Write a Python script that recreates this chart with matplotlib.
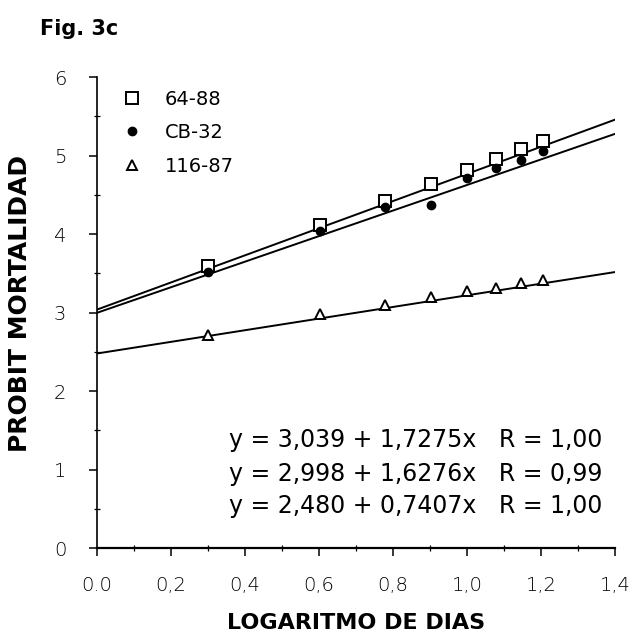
import matplotlib
matplotlib.use("Agg")
import matplotlib.pyplot as plt
import numpy as np

# log10 of days
log_dias = [0.301, 0.602, 0.778, 0.903, 1.000, 1.079, 1.146, 1.204]

probit_6488 = [3.60, 4.12, 4.42, 4.64, 4.82, 4.96, 5.08, 5.18]
probit_cb32 = [3.52, 4.04, 4.35, 4.37, 4.72, 4.84, 4.95, 5.06]
probit_11687 = [2.72, 2.98, 3.10, 3.20, 3.28, 3.32, 3.38, 3.42]

names = ["64-88", "CB-32", "116-87"]
intercepts = [3.039, 2.998, 2.480]
slopes = [1.7275, 1.6276, 0.7407]
r_values = ["1,00", "0,99", "1,00"]

x_ticks = [0.0, 0.2, 0.4, 0.6, 0.8, 1.0, 1.2, 1.4]
x_labels = ["0.0", "0,2", "0,4", "0,6", "0,8", "1,0", "1,2", "1,4"]
y_ticks = [0, 1, 2, 3, 4, 5, 6]

fig = plt.figure(figsize=(6.38, 6.42), dpi=100)
ax = fig.add_axes([0.152, 0.146, 0.812, 0.734])

# regression lines
xs = np.array([0.0, 1.4])
for a, b in zip(intercepts, slopes):
    ax.plot(xs, a + b * xs, color="black", lw=1.4, zorder=2)

ax.plot(log_dias, probit_6488, "s", mfc="white", mec="black", mew=1.4,
        ms=8, label=names[0], zorder=3)
ax.plot(log_dias, probit_cb32, "o", color="black", ms=6, label=names[1], zorder=4)
ax.plot(log_dias, probit_11687, "^", mfc="white", mec="black", mew=1.4,
        ms=7, label=names[2], zorder=3)

ax.set_xlim(0, 1.4)
ax.set_ylim(0, 6)
ax.spines["top"].set_visible(False)
ax.spines["right"].set_visible(False)
ax.spines["left"].set_linewidth(1.2)
ax.spines["bottom"].set_linewidth(1.6)

ax.set_xticks(x_ticks)
ax.set_xticklabels(x_labels)
ax.set_xticks(np.arange(0.1, 1.4, 0.2), minor=True)
ax.set_yticks(y_ticks)
ax.set_yticks(np.arange(0.5, 6, 1.0), minor=True)
ax.tick_params(axis="both", which="major", direction="out", length=6,
               width=1.1, labelsize=14)
ax.tick_params(axis="x", which="major", pad=14)
ax.tick_params(axis="y", which="major", pad=16)
ax.tick_params(axis="both", which="minor", direction="inout", length=5, width=0.9)
for lab in ax.get_xticklabels() + ax.get_yticklabels():
    lab.set_fontweight("light")

ax.legend(loc="upper left", bbox_to_anchor=(0.024, 1.0), frameon=False,
          fontsize=14, handletextpad=1.2, labelspacing=0.75,
          handlelength=1.0, borderaxespad=0.25)

eq_y = [0.229, 0.157, 0.089]
for a, b, r, yy in zip(intercepts, slopes, r_values, eq_y):
    txt = "y = {} + {}x   R = {}".format(str(a).replace(".", ",").ljust(5, "0"),
                                          str(b).replace(".", ","), r)
    ax.text(0.975, yy, txt, transform=ax.transAxes, ha="right", va="center",
            fontsize=17)

ax.set_ylabel("PROBIT MORTALIDAD", fontsize=18, fontweight="bold")
ax.yaxis.set_label_coords(-0.125, 0.52)
ax.set_xlabel("LOGARITMO DE DIAS", fontsize=16, fontweight="bold", labelpad=13)
fig.text(0.063, 0.955, "Fig. 3c", fontsize=15, fontweight="bold", va="center")

fig.savefig("out.png", dpi=100)
